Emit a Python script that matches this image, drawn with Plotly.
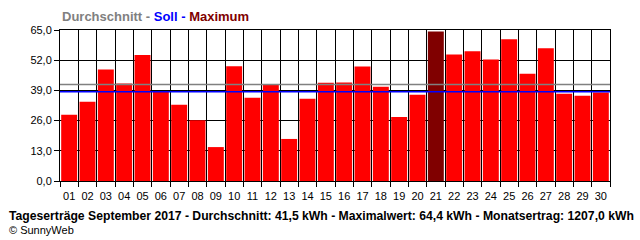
import plotly.graph_objects as go

days = ["01","02","03","04","05","06","07","08","09","10",
        "11","12","13","14","15","16","17","18","19","20",
        "21","22","23","24","25","26","27","28","29","30"]
values = [28.5, 34.1, 48.0, 42.0, 54.2, 38.3, 32.8, 26.2, 14.6, 49.4,
          35.8, 41.3, 18.1, 35.4, 42.3, 42.4, 49.3, 40.6, 27.6, 37.1,
          64.4, 54.5, 55.8, 52.3, 61.0, 46.2, 57.1, 37.6, 36.7, 38.1]
average = 41.5
target = 38.4
y_ticks = [0, 13, 26, 39, 52, 65]
footer = "Tageserträge September 2017 - Durchschnitt: 41,5 kWh - Maximalwert: 64,4 kWh - Monatsertrag: 1207,0 kWh"
credit = "© SunnyWeb"

vmax = max(values)
colors = ["#800000" if v == vmax else "#ff0000" for v in values]

FONT = "Liberation Sans, Arial, sans-serif"

fig = go.Figure()
fig.add_trace(go.Bar(x=days, y=values, marker=dict(color=colors, line=dict(width=0)),
                     hoverinfo="x+y"))

fig.add_shape(type="line", xref="paper", x0=0, x1=1, yref="y", y0=average, y1=average,
              line=dict(color="#808080", width=1.5))
fig.add_shape(type="line", xref="paper", x0=0, x1=1, yref="y", y0=target, y1=target,
              line=dict(color="#0000ff", width=1.5))

fig.update_layout(
    width=640, height=240,
    margin=dict(l=60, r=30, t=30, b=59),
    paper_bgcolor="white", plot_bgcolor="white",
    separators=",.",
    bargap=0.13,
    showlegend=False,
    font=dict(family=FONT, size=11, color="black"),
    xaxis=dict(type="category", tickson="boundaries", ticks="outside", ticklen=5,
               tickangle=0, ticklabelstandoff=5, tickcolor="black", showgrid=True,
               gridcolor="black", gridwidth=1,
               showline=True, linecolor="black", linewidth=1, mirror=True,
               tickfont=dict(family=FONT, size=11, color="black"), fixedrange=True),
    yaxis=dict(range=[0, 65], tickvals=y_ticks, tickformat=".1f", ticks="outside",
               ticklen=5, tickcolor="black", showgrid=True, gridcolor="black",
               gridwidth=1, zeroline=False, showline=True, linecolor="black",
               linewidth=1, mirror=True,
               tickfont=dict(family=FONT, size=11, color="black"), fixedrange=True),
)

fig.add_annotation(
    xref="paper", yref="paper", x=0, y=1, xanchor="left", yanchor="bottom",
    yshift=4, showarrow=False,
    text=("<b><span style='color:#808080'>Durchschnitt - </span>"
          "<span style='color:#0000ff'>Soll - </span>"
          "<span style='color:#800000'>Maximum</span></b>"),
    font=dict(family=FONT, size=13),
)
fig.add_annotation(
    xref="paper", yref="paper", x=0, y=0, xanchor="left", yanchor="middle",
    xshift=-53, yshift=-35, showarrow=False, text="<b>" + footer + "</b>",
    font=dict(family=FONT, size=12.2, color="black"),
)
fig.add_annotation(
    xref="paper", yref="paper", x=0, y=0, xanchor="left", yanchor="middle",
    xshift=-53, yshift=-49, showarrow=False, text=credit,
    font=dict(family=FONT, size=11, color="black"),
)

fig.write_html("out.html")
